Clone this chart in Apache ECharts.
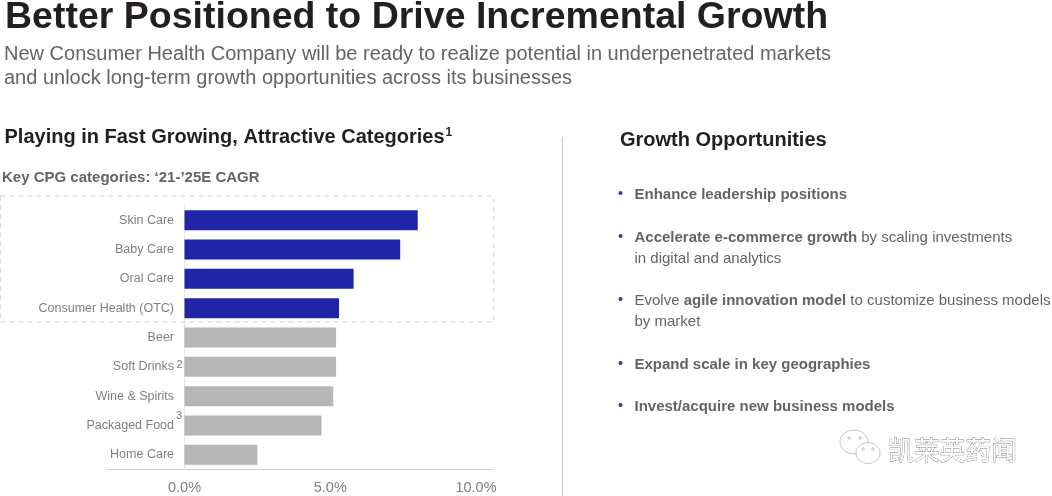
<!DOCTYPE html>
<html>
<head>
<meta charset="utf-8">
<style>
html, body { margin: 0; padding: 0; background: #fff; }
#chart { width: 1052px; height: 496px; }
</style>
<script src="https://cdn.jsdelivr.net/npm/echarts@6/dist/echarts.min.js"></script>
</head>
<body>
<div id="chart"></div>
<script>
var categories = ['Skin Care', 'Baby Care', 'Oral Care', 'Consumer Health (OTC)', 'Beer', 'Soft Drinks', 'Wine & Spirits', 'Packaged Food', 'Home Care'];
var cagrValues = [8.0, 7.4, 5.8, 5.3, 5.2, 5.2, 5.1, 4.7, 2.5];
var highlightCount = 4;
var footnotes = {'Soft Drinks': '2', 'Packaged Food': '3'};

var FONT = '"Liberation Sans", Arial, sans-serif';
var DARK = '#231f20';
var GREY = '#646464';

function text(x, y, str, size, color, weight, rich) {
    return {
        type: 'text', x: x, y: y, silent: true,
        style: {
            text: str, fontFamily: FONT, fontSize: size, fill: color,
            fontWeight: weight || 'normal', verticalAlign: 'middle', rich: rich
        }
    };
}

var bulletRich = {
    b: {fontFamily: FONT, fontSize: 15, fontWeight: 'bold', fill: GREY},
    n: {fontFamily: FONT, fontSize: 15, fill: GREY}
};

var bullets = [
    {y: 195, dot: true, str: '{b|Enhance leadership positions}'},
    {y: 238, dot: true, str: '{b|Accelerate e-commerce growth} {n|by scaling investments}'},
    {y: 259, dot: false, str: '{n|in digital and analytics}'},
    {y: 301, dot: true, str: '{n|Evolve }{b|agile innovation model} {n|to customize business models}'},
    {y: 322, dot: false, str: '{n|by market}'},
    {y: 365, dot: true, str: '{b|Expand scale in key geographies}'},
    {y: 407, dot: true, str: '{b|Invest/acquire new business models}'}
];

var graphics = [
    text(5, 17.5, 'Better Positioned to Drive Incremental Growth', 37.5, DARK, 'bold'),
    text(4, 54.5, 'New Consumer Health Company will be ready to realize potential in underpenetrated markets', 20, GREY),
    text(4, 78, 'and unlock long-term growth opportunities across its businesses', 20, GREY),
    text(4.5, 137, 'Playing in Fast Growing, Attractive Categories{s|1}', 20, DARK, 'bold', {
        s: {fontFamily: FONT, fontSize: 12, fontWeight: 'bold', fill: DARK, verticalAlign: 'top', padding: [0, 0, 8, 1]}
    }),
    text(2, 178, 'Key CPG categories: \u201821-\u201925E CAGR', 15, GREY, 'bold'),
    text(620, 140, 'Growth Opportunities', 20, DARK, 'bold'),
    // dashed box round the highlighted categories
    {type: 'rect', z: 5, silent: true, shape: {x: 0.5, y: 196, width: 493, height: 126},
        style: {fill: 'none', stroke: '#dcdfe2', lineWidth: 1.3, lineDash: [5, 4]}},
    // separator between the two columns
    {type: 'line', silent: true, shape: {x1: 562.5, y1: 137, x2: 562.5, y2: 496},
        style: {stroke: '#c8c8c8', lineWidth: 1}},
    // baseline runs past the plot on both sides
    {type: 'line', silent: true, shape: {x1: 107, y1: 469.5, x2: 493, y2: 469.5},
        style: {stroke: '#cfcfcf', lineWidth: 1}},
    // footnote marks on the axis labels
    text(176.5, 365, footnotes['Soft Drinks'], 11, '#777777'),
    text(176, 416, footnotes['Packaged Food'], 11, '#777777')
];

bullets.forEach(function (b) {
    if (b.dot) {
        graphics.push({type: 'circle', silent: true, shape: {cx: 620.5, cy: b.y - 2, r: 2},
            style: {fill: '#2a3f8f'}});
    }
    graphics.push(text(634.5, b.y, b.str, 15, GREY, 'normal', bulletRich));
});

// watermark, bottom right
var wmBubbles = [
    {cx: 854, cy: 442, rx: 14, ry: 12},
    {cx: 868, cy: 453, rx: 12, ry: 10.5}
];
wmBubbles.forEach(function (c, i) {
    graphics.push({type: 'ellipse', silent: true, shape: c,
        style: {fill: i ? '#fff' : 'none', stroke: '#c0c0c0', lineWidth: 0.9}});
});
[[849, 438], [860, 438], [863, 449], [873, 449]].forEach(function (p) {
    graphics.push({type: 'circle', silent: true, shape: {cx: p[0], cy: p[1], r: 1.2},
        style: {fill: 'none', stroke: '#aaaaaa', lineWidth: 0.7}});
});
graphics.push({
    type: 'text', x: 888, y: 450, silent: true,
    style: {
        text: '\u51ef\u83b1\u82f1\u836f\u95fb', fontFamily: '"Noto Sans CJK SC"', fontSize: 25.8,
        fill: '#ffffff', stroke: '#808080', lineWidth: 0.8, verticalAlign: 'middle'
    }
});

var chart = echarts.init(document.getElementById('chart'), null, {renderer: 'canvas'});

chart.setOption({
    animation: false,
    backgroundColor: '#fff',
    grid: {left: 184.5, top: 205.5, width: 291.5, height: 264, containLabel: false},
    xAxis: {
        type: 'value', min: 0, max: 10, interval: 5,
        axisLine: {show: false}, axisTick: {show: false}, splitLine: {show: false},
        axisLabel: {
            fontFamily: FONT, fontSize: 14.5, color: '#7f7f7f', margin: 11,
            formatter: function (v) { return v.toFixed(1) + '%'; }
        }
    },
    yAxis: {
        type: 'category', inverse: true, data: categories,
        axisLine: {show: true, lineStyle: {color: '#e6e6e6', width: 1}},
        axisTick: {show: false},
        axisLabel: {fontFamily: FONT, fontSize: 12.5, color: '#7f7f7f', margin: 10.5, padding: [2, 0, 0, 0]}
    },
    series: [{
        type: 'bar', barWidth: 20, silent: true,
        data: cagrValues,
        itemStyle: {
            color: function (p) { return p.dataIndex < highlightCount ? '#1f23a6' : '#b6b6b6'; }
        }
    }],
    graphic: {elements: graphics}
});
</script>
</body>
</html>
